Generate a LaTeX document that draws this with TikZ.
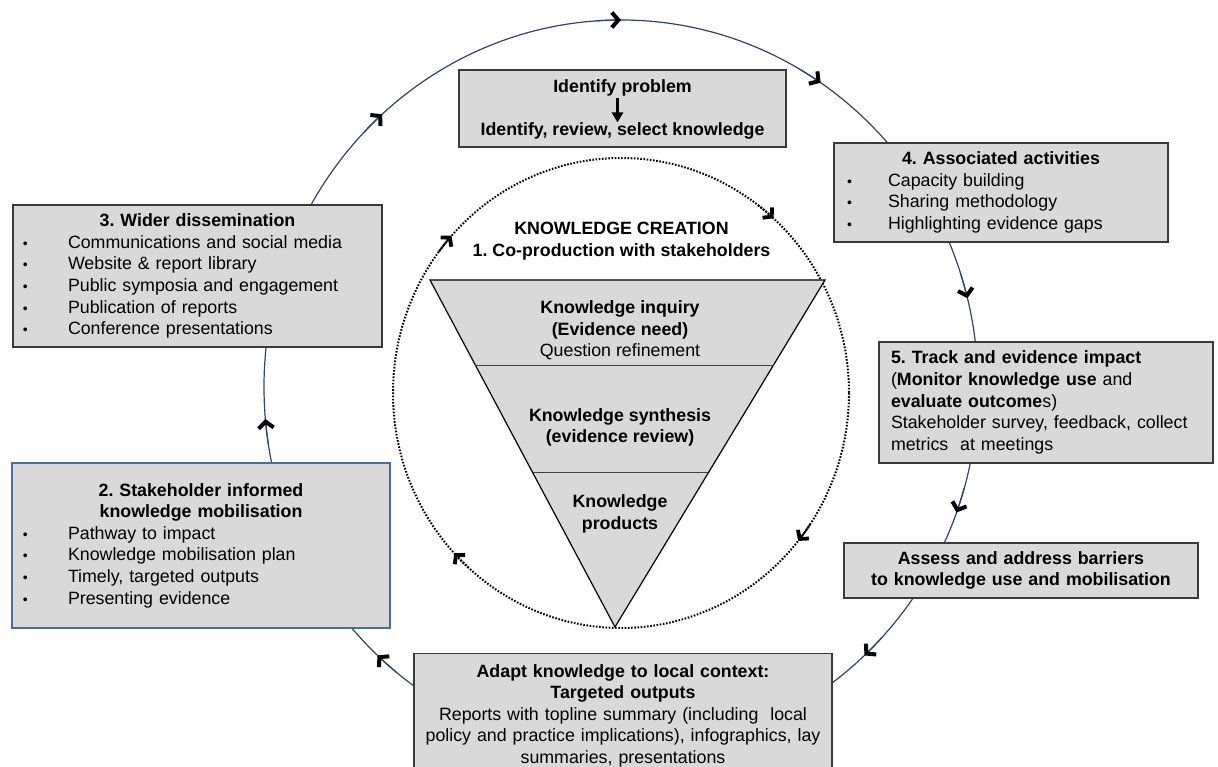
\documentclass[tikz,border=0pt]{standalone}
\usepackage{fontspec}
\setmainfont{Liberation Sans}
\usetikzlibrary{arrows.meta,calc}
\definecolor{navy}{HTML}{2B4472}
\definecolor{boxfill}{HTML}{D9D9D9}
\definecolor{boxline}{HTML}{3A3A3A}
\definecolor{blueline}{HTML}{4A6CA3}
\newcommand\bul[1][45pt]{\makebox[#1][l]{\fontsize{14}{14}\selectfont •}}
\frenchspacing
\tikzset{
  gbox/.style={draw=boxline, fill=boxfill, line width=1.3pt, rectangle},
  cyc/.style={navy, line width=1.2pt},
  cycarrow/.style={cyc, -{Straight Barb[length=6.5pt,width=15pt,line width=4pt,color=black]}},
  dotline/.style={black, line width=2pt, dash pattern=on 1.6pt off 1.6pt},
  dotarrow/.style={dotline, -{Straight Barb[length=6pt,width=14pt,line width=3.8pt]}},
  bigfont/.style={font=\fontsize{17.8}{21.6}\selectfont},
  boldfont/.style={font=\fontsize{17.8}{21.6}\selectfont\bfseries}
}
\begin{document}
\begin{tikzpicture}[x=1pt,y=-1pt,bigfont]
\useasboundingbox (0,0) rectangle (1218,767);

% outer cycle
\draw[cyc] (621,387) ellipse [x radius=357, y radius=367];
\foreach \t in {-90,-56,-14,20,47,133,175,228}
  \draw[cycarrow] ({621+357*cos(\t-4)},{387+367*sin(\t-4)}) arc[start angle=\t-4, end angle=\t, x radius=357, y radius=367];

% inner dotted cycle
\draw[dotline] (621,393) ellipse [x radius=228, y radius=235];
\foreach \t in {-48,39,137,222}
  \draw[dotarrow] ({621+228*cos(\t-5)},{393+235*sin(\t-5)}) arc[start angle=\t-5, end angle=\t, x radius=228, y radius=235];

% inverted triangle
\coordinate (tl) at (430,280);
\coordinate (tr) at (825,280);
\coordinate (tp) at (615,627);
\draw[fill=boxfill, draw=black, line width=1.2pt, line join=miter] (tl) -- (tr) -- (tp) -- cycle;
\draw[line width=1pt, black!75] ($(tl)!0.245!(tp)$) -- ($(tr)!0.245!(tp)$);
\draw[line width=1pt, black!75] ($(tl)!0.556!(tp)$) -- ($(tr)!0.556!(tp)$);

\node[boldfont, align=center, inner sep=0pt] (kc) at (621.5,241) {KNOWLEDGE CREATION\\1. Co-production with stakeholders};
\node[align=center, inner sep=0pt] (kinq) at (620,330.5) {\textbf{Knowledge inquiry}\\\textbf{(Evidence need)}\\Question refinement};
\node[boldfont, align=center, inner sep=0pt] (ksyn) at (620,427.5) {Knowledge synthesis\\(evidence review)};
\node[boldfont, align=center, inner sep=0pt] (kprod) at (620,514) {Knowledge\\products};

% top box
\node[gbox, minimum width=327pt, minimum height=77pt, inner sep=0pt] (topbox) at (622.5,108.5) {};
\node[boldfont, inner sep=0pt] (ip1) at (622.5,88) {Identify problem};
\node[boldfont, inner sep=0pt] (ip2) at (622.5,131) {Identify, review, select knowledge};
\draw[line width=2.6pt, -{Triangle[length=10pt,width=11pt]}, shorten <=2pt] ([xshift=-5pt]ip1.south) -- ([xshift=-5pt]ip2.north);

% box 3
\node[gbox, text width=349pt, inner xsep=10pt, inner ysep=0pt, minimum height=142pt, align=left] (b3) at (197.5,276)
 {\makebox[\linewidth][c]{\bfseries 3. Wider dissemination}\\
  \bul Communications and social media\\
  \bul Website \& report library\\
  \bul Public symposia and engagement\\
  \bul Publication of reports\\
  \bul Conference presentations};

% box 4
\node[gbox, text width=308pt, inner xsep=13pt, inner ysep=0pt, minimum height=99pt, align=left] (b4) at (1001,192.5)
 {\makebox[\linewidth][c]{\bfseries 4. Associated activities}\\
  \bul[41pt]Capacity building\\
  \bul[41pt]Sharing methodology\\
  \bul[41pt]Highlighting evidence gaps};

% box 5
\node[gbox, text width=310pt, inner xsep=12pt, inner ysep=0pt, minimum height=121pt, align=left] (b5) at (1046,402.5)
 {\textbf{5. Track and evidence impact}\\
  (\textbf{Monitor knowledge use} and\\
  \textbf{evaluate outcome}s)\\
  Stakeholder survey, feedback, collect\\
  metrics\ \ at meetings};

% assess box
\node[gbox, boldfont, text width=340pt, inner xsep=7pt, inner ysep=0pt, minimum height=55pt, align=center] (assess) at (1021,570.5)
 {Assess and address barriers\\to knowledge use and mobilisation};

% box 2
\node[gbox, draw=blueline, text width=356pt, inner xsep=11pt, inner ysep=0pt, minimum height=165pt, align=left] (b2) at (201,545.5)
 {\makebox[\linewidth][c]{\bfseries 2. Stakeholder informed}\\
  \makebox[\linewidth][c]{\bfseries knowledge mobilisation}\\
  \bul Pathway to impact\\
  \bul Knowledge mobilisation plan\\
  \bul Timely, targeted outputs\\
  \bul Presenting evidence};

% bottom box
\node[gbox, anchor=north, text width=410pt, inner xsep=4pt, inner ysep=10.5pt, align=center] (adapt) at (623,653)
 {\textbf{Adapt knowledge to local context:}\\
  \textbf{Targeted outputs}\\
  Reports with topline summary (including\ \ local\\
  policy and practice implications), infographics, lay\\
  summaries, presentations};
\end{tikzpicture}
\end{document}
